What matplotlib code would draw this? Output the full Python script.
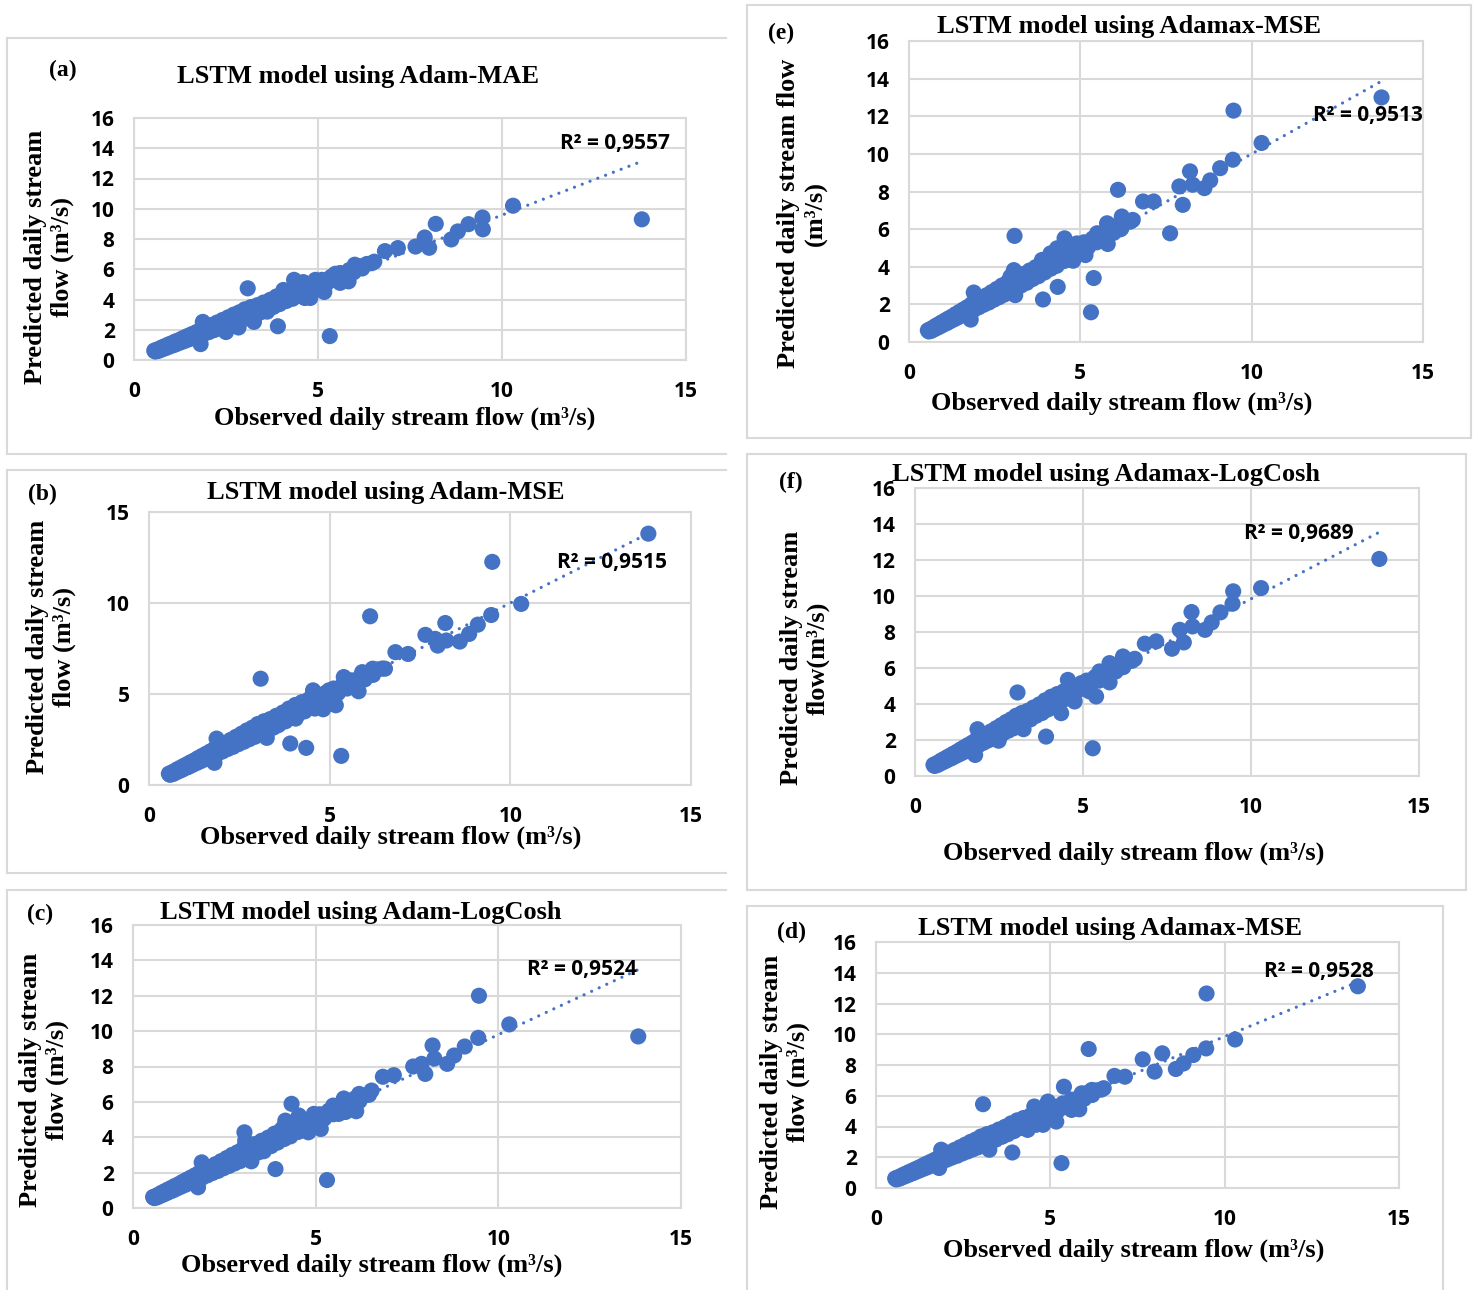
import matplotlib
matplotlib.use("Agg")
import matplotlib.pyplot as plt
from matplotlib.lines import Line2D
import numpy as np

# figure size in pixels
W, H = 1475, 1290

# ---- data ----
# dense low-flow band, same in every panel
obs_band = [0.55, 0.58, 0.62, 0.66, 0.7, 0.74, 0.78, 0.83, 0.87, 0.92, 0.96, 1.01, 1.06, 1.1, 1.15,
            1.2, 1.26, 1.31, 1.36, 1.42, 1.47, 1.53, 1.58, 1.64, 1.7, 1.76, 1.82, 1.9, 1.97, 2.04,
            2.12, 2.18, 2.26, 2.33, 2.41, 2.48, 2.56, 2.63, 2.71, 2.78, 2.86, 2.93, 3.01, 3.1, 3.18,
            3.27, 3.35, 3.44, 3.52, 3.61, 3.7, 3.78, 3.87, 3.96, 4.05, 4.14, 4.23, 4.31, 4.42, 4.52,
            4.64, 4.76, 4.88, 5.0, 5.11, 5.23, 5.36, 5.48, 5.6, 5.72, 5.85, 5.97, 6.08, 6.2, 6.33, 6.46]
pred_band = [0.62, 0.56, 0.68, 0.6, 0.76, 0.68, 0.86, 0.76, 0.95, 0.84, 1.05, 0.93, 1.15, 1.0, 1.25,
             1.1, 1.36, 1.2, 1.48, 1.3, 1.6, 1.4, 1.72, 1.5, 1.85, 1.58, 2.0, 1.72, 2.15, 1.85,
             2.32, 1.98, 2.48, 2.1, 2.65, 2.25, 2.82, 2.38, 3.0, 2.52, 3.15, 2.65, 3.35, 2.8, 3.5,
             3.0, 3.62, 3.15, 3.8, 3.35, 3.98, 3.5, 4.2, 3.7, 4.4, 3.9, 4.55, 4.05, 4.7, 4.3,
             4.85, 4.6, 5.05, 4.85, 5.3, 5.05, 5.5, 5.3, 5.75, 5.55, 5.95, 5.8, 6.2, 6.05, 6.35, 6.4]

# (a) Adam-MAE
obs_a = [1.87, 1.81, 2.5, 2.84, 3.09, 3.26, 3.62, 3.86, 3.91, 4.06, 4.35, 4.6, 4.64, 4.79, 4.93, 5.17,
         5.32, 5.47, 5.6, 5.83, 6.0, 6.19, 6.53, 6.82, 7.17, 7.65, 7.9, 8.02, 8.2, 8.62, 8.8, 9.09,
         9.47, 9.48, 10.3, 13.8]
pred_a = [2.52, 1.05, 1.85, 2.15, 4.74, 2.52, 3.2, 3.63, 2.23, 4.63, 5.3, 5.15, 4.1, 4.1, 5.3, 4.5,
          1.58, 5.7, 5.1, 5.2, 6.3, 6.2, 6.5, 7.2, 7.4, 7.5, 8.1, 7.42, 9.0, 7.97, 8.5, 8.98,
          9.42, 8.64, 10.2, 9.3]

# (b) Adam-MSE
obs_b = [1.87, 1.81, 3.09, 3.26, 3.57, 3.91, 4.06, 4.35, 4.54, 4.59, 4.82, 4.98, 5.17, 5.32, 5.39,
         5.8, 5.9, 6.12, 6.19, 6.53, 6.82, 7.17, 7.65, 7.92, 7.99, 8.2, 8.23, 8.6, 8.86, 9.1, 9.47,
         9.5, 10.3, 13.82]
pred_b = [2.55, 1.22, 5.84, 2.59, 3.28, 2.28, 3.65, 2.04, 5.2, 4.2, 4.16, 5.2, 4.38, 1.6, 5.93,
          5.15, 6.2, 9.27, 6.39, 6.39, 7.3, 7.2, 8.25, 8.03, 7.66, 8.9, 7.94, 7.88, 8.3, 8.81, 9.34,
          12.26, 9.95, 13.81]

# (c) Adam-LogCosh
obs_c = [1.88, 1.78, 3.05, 3.07, 3.24, 3.58, 3.9, 4.12, 4.17, 4.34, 4.54, 4.6, 4.8, 4.95, 5.14, 5.31,
         5.48, 5.63, 5.77, 5.82, 6.11, 6.19, 6.53, 6.84, 7.14, 7.67, 7.9, 8.0, 8.2, 8.25, 8.6, 8.79,
         9.08, 9.45, 9.47, 10.3, 13.83]
pred_c = [2.58, 1.17, 4.28, 3.8, 2.64, 3.21, 2.2, 4.57, 4.94, 5.89, 5.23, 4.38, 4.28, 5.32, 4.47, 1.58,
          5.79, 5.32, 6.19, 5.43, 5.47, 6.45, 6.64, 7.42, 7.51, 8.0, 8.15, 7.58, 9.19, 8.45, 8.15, 8.62,
          9.13, 9.62, 12.0, 10.38, 9.7]

# (e) Adamax-MSE (top right)
obs_e = [1.89, 1.8, 2.96, 3.06, 3.08, 3.1, 3.59, 3.88, 3.91, 4.13, 4.32, 4.34, 4.54, 4.59, 4.79, 4.9,
         5.15, 5.31, 5.39, 5.49, 5.78, 5.8, 6.1, 6.17, 6.21, 6.53, 6.83, 7.14, 7.62, 7.89, 7.99, 8.2,
         8.28, 8.62, 8.79, 9.08, 9.45, 9.47, 10.29, 13.79]
pred_e = [2.63, 1.19, 3.47, 3.82, 5.64, 2.49, 3.47, 4.36, 2.26, 4.71, 4.98, 2.93, 5.51, 4.36, 4.32, 5.24,
          4.62, 1.58, 3.4, 5.78, 6.31, 5.21, 8.09, 5.99, 6.67, 6.49, 7.47, 7.47, 5.78, 8.27, 7.29, 9.07,
          8.36, 8.18, 8.59, 9.24, 9.69, 12.3, 10.58, 13.0]

# (f) Adamax-LogCosh
obs_f = [1.86, 1.79, 2.49, 3.05, 3.23, 3.9, 4.35, 4.55, 4.75, 4.95, 5.19, 5.29, 5.39, 5.49, 5.79, 5.79,
         6.09, 6.19, 6.54, 6.84, 7.18, 7.65, 7.88, 8.0, 8.23, 8.26, 8.63, 8.83, 9.09, 9.45, 9.47, 10.3,
         13.82]
pred_f = [2.6, 1.17, 1.96, 4.64, 2.6, 2.19, 3.49, 5.34, 4.14, 5.16, 4.7, 1.54, 4.42, 5.81, 5.2, 6.27,
          6.0, 6.64, 6.51, 7.35, 7.48, 7.07, 8.12, 7.42, 9.11, 8.31, 8.12, 8.53, 9.09, 9.57, 10.26, 10.44,
          12.06]

# (d) Adamax-MSE (bottom right)
obs_d = [1.87, 1.81, 3.07, 3.25, 3.62, 3.91, 4.35, 4.54, 4.59, 4.79, 4.93, 5.17, 5.32, 5.39, 5.61, 5.83,
         5.9, 6.1, 6.19, 6.53, 6.84, 7.14, 7.65, 7.99, 8.21, 8.6, 8.82, 9.1, 9.47, 9.48, 10.3, 13.82]
pred_d = [2.49, 1.3, 5.45, 2.49, 3.35, 2.31, 3.78, 5.3, 4.11, 4.11, 5.62, 4.32, 1.62, 6.59, 5.08, 5.12,
          6.16, 9.04, 6.38, 6.49, 7.29, 7.24, 8.37, 7.57, 8.76, 7.74, 8.1, 8.65, 9.08, 12.65, 9.66, 13.12]

# linear trendlines (slope, intercept) as drawn
trend = {"a": (0.936, 0.22), "b": (1.0, 0.0), "c": (0.96, 0.2),
         "e": (1.02, -0.2), "f": (0.97, 0.14), "d": (0.93, 0.55)}
r2_text = {"a": "R² = 0,9557", "b": "R² = 0,9515", "c": "R² = 0,9524",
           "e": "R² = 0,9513", "f": "R² = 0,9689", "d": "R² = 0,9528"}
titles = {"a": "LSTM model using Adam-MAE", "b": "LSTM model using Adam-MSE",
          "c": "LSTM model using Adam-LogCosh", "e": "LSTM model using Adamax-MSE",
          "f": "LSTM model using Adamax-LogCosh", "d": "LSTM model using Adamax-MSE"}
ylabels = {"a": "Predicted daily stream\nflow (m³/s)", "b": "Predicted daily stream\nflow (m³/s)",
           "c": "Predicted daily stream\nflow (m³/s)", "e": "Predicted daily stream flow\n(m³/s)",
           "f": "Predicted daily stream\nflow(m³/s)", "d": "Predicted daily stream\nflow (m³/s)"}
xlabel = "Observed daily stream flow (m³/s)"
x_ticks = [0, 5, 10, 15]
y_ticks = {"a": [0, 2, 4, 6, 8, 10, 12, 14, 16], "b": [0, 5, 10, 15],
           "c": [0, 2, 4, 6, 8, 10, 12, 14, 16], "e": [0, 2, 4, 6, 8, 10, 12, 14, 16],
           "f": [0, 2, 4, 6, 8, 10, 12, 14, 16], "d": [0, 2, 4, 6, 8, 10, 12, 14, 16]}
panel_data = {"a": (obs_a, pred_a), "b": (obs_b, pred_b), "c": (obs_c, pred_c),
              "e": (obs_e, pred_e), "f": (obs_f, pred_f), "d": (obs_d, pred_d)}

# ---- layout, in pixels of the 1475x1290 picture ----
# plot area: left, top, right, bottom
plot_box = {"a": (134, 118, 686, 360), "b": (149, 512, 691, 785), "c": (133, 925, 681, 1208),
            "e": (909, 41, 1423, 342), "f": (915, 488, 1419, 776), "d": (876, 942, 1399, 1188)}
# panel frame: left, top, right, bottom, which sides
frames = {"a": (7, 38, 726, 454, "tlb"), "b": (7, 470, 726, 873, "tlb"), "c": (7, 890, 726, 1300, "tl"),
          "e": (747, 5, 1471, 438, "tlbr"), "f": (747, 454, 1466, 890, "tlbr"),
          "d": (747, 906, 1443, 1300, "tlr")}
letter_pos = {"a": (63, 70), "b": (42, 494), "c": (40, 914), "e": (781, 33), "f": (791, 482), "d": (791, 932)}
title_pos = {"a": (358, 77), "b": (386, 492), "c": (361, 912), "e": (1129, 27), "f": (1106, 475), "d": (1110, 928)}
r2_pos = {"a": (615, 143), "b": (612, 562), "c": (582, 970), "e": (1368, 115), "f": (1299, 534), "d": (1319, 971)}
xlabel_pos = {"a": (405, 418), "b": (391, 837), "c": (372, 1265), "e": (1122, 403), "f": (1134, 853), "d": (1134, 1250)}
ylabel_pos = {"a": (49, 257), "b": (51, 647), "c": (44, 1080), "e": (802, 213), "f": (805, 658), "d": (785, 1082)}

BLUE = "#4472C4"
GRID = "#D9D9D9"
TICK_FONT = "Open Sans"

plt.rcParams["font.family"] = ["Liberation Serif", "DejaVu Serif"]

fig = plt.figure(figsize=(W / 100, H / 100), dpi=100)
fig.patch.set_facecolor("white")


def fx(x):
    return x / W


def fy(y):
    return 1 - y / H


for key in ["a", "b", "c", "e", "f", "d"]:
    # panel frame
    x0, y0, x1, y1, sides = frames[key]
    segs = {"t": ([x0, x1], [y0, y0]), "b": ([x0, x1], [y1, y1]),
            "l": ([x0, x0], [y0, y1]), "r": ([x1, x1], [y0, y1])}
    for s in sides:
        xs, ys = segs[s]
        fig.add_artist(Line2D([fx(v) for v in xs], [fy(v) for v in ys], color=GRID, lw=1.5,
                              transform=fig.transFigure))

    l, t, r, b = plot_box[key]
    ax = fig.add_axes([fx(l), fy(b), (r - l) / W, (b - t) / H])
    obs, pred = panel_data[key]
    xs = np.array(obs_band + obs)
    ys = np.array(pred_band + pred)

    slope, icpt = trend[key]
    tx = np.array([xs.min(), xs.max()])
    ax.plot(tx, slope * tx + icpt, color=BLUE, lw=2.3, linestyle=(0, (0.01, 2.6)),
            dash_capstyle="round", zorder=4)
    ax.scatter(xs, ys, s=135, color=BLUE, edgecolors="none", zorder=3)

    ax.set_xlim(0, 15)
    ax.set_ylim(0, y_ticks[key][-1])
    ax.set_xticks(x_ticks)
    ax.set_yticks(y_ticks[key])
    ax.grid(True, color=GRID, lw=1.5)
    ax.set_axisbelow(True)
    for sp in ax.spines.values():
        sp.set_color(GRID)
        sp.set_linewidth(1.5)
    ax.tick_params(length=0, labelsize=15)
    ax.tick_params(axis="x", pad=15)
    ax.tick_params(axis="y", pad=14)
    for lab in ax.get_xticklabels() + ax.get_yticklabels():
        lab.set_fontfamily(TICK_FONT)
        lab.set_fontweight("bold")

    fig.text(fx(letter_pos[key][0]), fy(letter_pos[key][1]), "(" + key + ")", fontsize=17,
             fontweight="bold", ha="center", va="center")
    fig.text(fx(title_pos[key][0]), fy(title_pos[key][1]), titles[key], fontsize=19,
             fontweight="bold", ha="center", va="center")
    fig.text(fx(xlabel_pos[key][0]), fy(xlabel_pos[key][1]), xlabel, fontsize=19,
             fontweight="bold", ha="center", va="center")
    fig.text(fx(ylabel_pos[key][0]), fy(ylabel_pos[key][1]), ylabels[key], fontsize=19,
             fontweight="bold", ha="center", va="center", rotation=90, multialignment="center",
             linespacing=1.2)
    fig.text(fx(r2_pos[key][0]), fy(r2_pos[key][1]), r2_text[key], fontsize=15,
             family=TICK_FONT, fontweight="bold", ha="center", va="center")

fig.savefig("out.png", dpi=100)
